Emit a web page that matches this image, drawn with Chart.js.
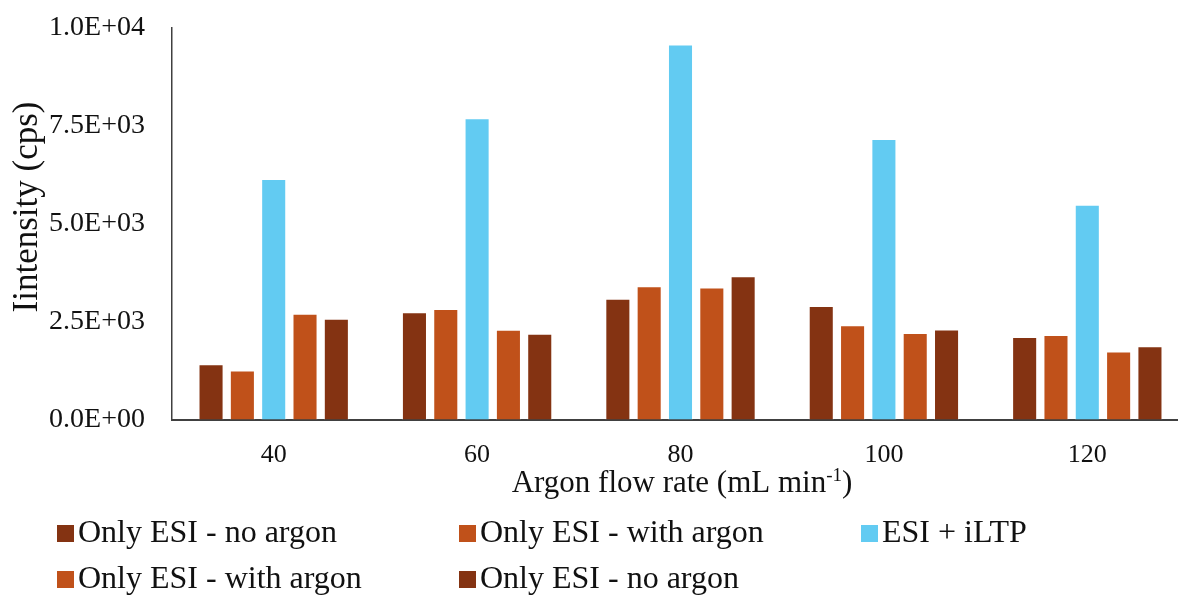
<!DOCTYPE html>
<html>
<head>
<meta charset="utf-8">
<script src="https://cdn.jsdelivr.net/npm/chart.js@4"></script>
<style>
  html, body { margin: 0; padding: 0; background: #ffffff; overflow: hidden; }
  #wrap { width: 1178px; height: 598px; overflow: hidden; }
</style>
</head>
<body>
<div id="wrap">
  <canvas id="flowChart" width="1200" height="598"></canvas>
</div>
<script>
const serif = "'Liberation Serif', 'Times New Roman', serif";
const textColor = "#111111";

const flowRates = ["40", "60", "80", "100", "120"];
const yTickLabels = ["0.0E+00", "2.5E+03", "5.0E+03", "7.5E+03", "1.0E+04"];

const seriesLabels = [
  "Only ESI - no argon",
  "Only ESI - with argon",
  "ESI + iLTP",
  "Only ESI - with argon",
  "Only ESI - no argon",
];

const esiNoArgonBefore = [1420, 2750, 3090, 2910, 2120];
const esiWithArgonBefore = [1260, 2830, 3410, 2420, 2170];
const esiIltp = [6150, 7700, 9580, 7170, 5490];
const esiWithArgonAfter = [2710, 2300, 3380, 2220, 1750];
const esiNoArgonAfter = [2580, 2200, 3670, 2310, 1880];

const seriesColors = ["#843312", "#c0511a", "#62cbf2", "#c0511a", "#843312"];

const seriesValues = [
  esiNoArgonBefore,
  esiWithArgonBefore,
  esiIltp,
  esiWithArgonAfter,
  esiNoArgonAfter,
];

// axis titles drawn by hand: the x title needs a superscript, the y title sits a bit above centre
const axisTitles = {
  id: "axisTitles",
  afterDraw(chart) {
    const { ctx } = chart;
    ctx.save();
    ctx.fillStyle = textColor;

    // x title with "-1" raised
    const main = "Argon flow rate (mL min";
    const sup = "-1";
    const tail = ")";
    ctx.font = `31px ${serif}`;
    const wMain = ctx.measureText(main).width;
    const wTail = ctx.measureText(tail).width;
    ctx.font = `19px ${serif}`;
    const wSup = ctx.measureText(sup).width;
    const total = wMain + wSup + wTail;
    let x = 682 - total / 2;
    const y = 492;
    ctx.textBaseline = "alphabetic";
    ctx.textAlign = "left";
    ctx.font = `31px ${serif}`;
    ctx.fillText(main, x, y);
    x += wMain;
    ctx.font = `19px ${serif}`;
    ctx.fillText(sup, x, y - 11);
    x += wSup;
    ctx.font = `31px ${serif}`;
    ctx.fillText(tail, x, y);

    // y title
    ctx.translate(28, 207);
    ctx.rotate(-Math.PI / 2);
    ctx.font = `35px ${serif}`;
    ctx.textAlign = "center";
    ctx.textBaseline = "middle";
    ctx.fillText("Iintensity (cps)", 0, 0);
    ctx.restore();
  },
};

// legend laid out as a grid of three columns under the axis title
const gridLegend = {
  id: "gridLegend",
  afterDraw(chart) {
    const { ctx } = chart;
    const left = 57;
    const colWidth = 402;
    const baselines = [542, 588];
    const box = 17;

    ctx.save();
    ctx.font = `32px ${serif}`;
    ctx.textAlign = "left";
    ctx.textBaseline = "alphabetic";
    chart.data.datasets.forEach((dataset, index) => {
      const col = index % 3;
      const row = Math.floor(index / 3);
      const x = left + col * colWidth;
      const base = baselines[row];
      ctx.fillStyle = dataset.backgroundColor;
      ctx.fillRect(x, base - box, box, box);
      ctx.fillStyle = textColor;
      ctx.fillText(dataset.label, x + 21, base);
    });
    ctx.restore();
  },
};

new Chart(document.querySelector("#flowChart"), {
  type: "bar",
  data: {
    labels: flowRates,
    datasets: seriesLabels.map((label, index) => ({
      label,
      data: seriesValues[index],
      backgroundColor: seriesColors[index],
      borderColor: "rgba(255, 255, 255, 0.55)",
      borderWidth: 1,
      categoryPercentage: 0.77,
      barPercentage: 0.8,
    })),
  },
  options: {
    responsive: false,
    animation: false,
    devicePixelRatio: 1,
    layout: {
      padding: { top: 28, right: 11, bottom: 0, left: 0 },
    },
    scales: {
      x: {
        grid: { display: true, drawOnChartArea: false, drawTicks: false },
        border: { display: true, color: "#404040", width: 2 },
        ticks: {
          color: textColor,
          font: { family: serif, size: 26 },
          padding: 20,
          maxRotation: 0,
        },
        afterFit(scale) {
          scale.height = 178;
          scale.paddingLeft = 0;
          scale.paddingRight = 0;
        },
      },
      y: {
        min: 0,
        max: 10000,
        grid: { display: true, drawOnChartArea: false, drawTicks: false },
        border: { display: true, color: "#404040", width: 1.5 },
        ticks: {
          stepSize: 2500,
          color: textColor,
          font: { family: serif, size: 28 },
          padding: 27,
          callback: (value, index) => yTickLabels[index],
        },
        afterFit(scale) {
          scale.width = 172;
          scale.paddingTop = 0;
          scale.paddingBottom = 0;
        },
      },
    },
    plugins: {
      legend: { display: false },
      tooltip: { enabled: false },
    },
  },
  plugins: [axisTitles, gridLegend],
});
</script>
</body>
</html>
